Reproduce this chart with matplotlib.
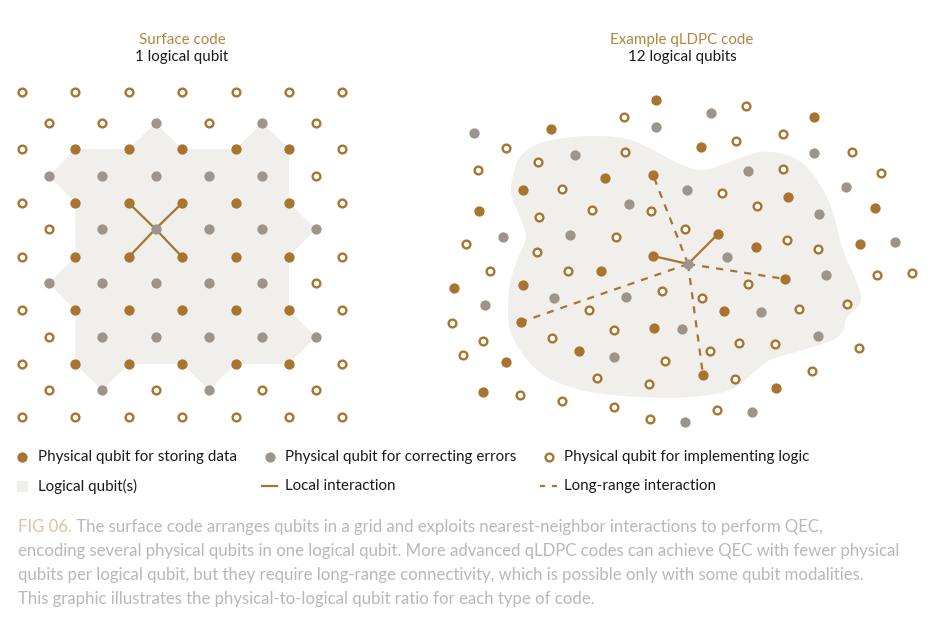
import matplotlib.pyplot as plt
import numpy as np

## colours
BROWN = '#a8742f'
GREY = '#9d958c'
SHADE = '#f0efec'
TAN = '#b5843f'
CAPTION = '#b8b8b8'

## ---- surface code grid (half-column index, row) ----
half_x = [22 + 26.7 * h for h in range(13)]
row_y = [92, 123, 149, 176, 203, 229, 257, 283, 310, 337, 364, 390, 417]
surface_rows = [
    "o.o.o.o.o.o.o",
    ".o.o.g.o.g.o.",
    "o.d.d.d.d.d.o",
    ".g.g.g.g.g.o.",
    "o.d.d.d.d.d.o",
    ".o.g.g.g.g.g.",
    "o.d.d.d.d.d.o",
    ".g.g.g.g.g.o.",
    "o.d.d.d.d.d.o",
    ".o.g.g.g.g.g.",
    "o.d.d.d.d.d.o",
    ".o.g.o.g.o.o.",
    "o.o.o.o.o.o.o",
]
# logical qubit outline (half-col, row)
surface_patch = [(2, 2), (4, 2), (5, 1), (6, 2), (8, 2), (9, 1), (10, 2), (10, 4), (11, 5),
                 (10, 6), (10, 8), (11, 9), (10, 10), (8, 10), (7, 11), (6, 10), (4, 10),
                 (3, 11), (2, 10), (2, 8), (1, 7), (2, 6), (2, 4), (1, 3)]
surface_center = (5, 5)
surface_local = [(4, 4), (6, 4), (4, 6), (6, 6)]

## ---- qLDPC example (pixel positions) ----
ldpc_data = [(656, 100), (551, 129), (653, 175), (605, 178), (523, 190), (479, 211), (653, 256),
             (701, 147), (814, 117), (788, 197), (875, 208), (718, 234), (756, 247), (860, 244),
             (601, 271), (454, 288), (523, 285), (521, 322), (654, 328), (506, 362), (579, 351),
             (483, 392), (785, 279), (724, 311), (703, 375), (776, 388)]
ldpc_check = [(656, 127), (474, 133), (575, 155), (629, 204), (503, 237), (570, 235), (711, 113),
              (814, 153), (748, 171), (687, 190), (846, 187), (819, 214), (895, 242), (727, 257),
              (485, 305), (554, 298), (626, 297), (614, 357), (682, 329), (688, 264), (826, 275),
              (761, 312), (818, 336), (752, 412), (685, 422)]
ldpc_logic = [(624, 117), (506, 148), (625, 152), (538, 162), (478, 170), (562, 189), (539, 217),
              (592, 210), (651, 211), (616, 237), (466, 244), (537, 252), (746, 106), (736, 141),
              (783, 134), (852, 152), (783, 169), (881, 173), (722, 193), (757, 206), (685, 229),
              (787, 240), (818, 249), (490, 271), (568, 271), (662, 291), (589, 310), (452, 323),
              (614, 330), (483, 341), (552, 338), (463, 355), (665, 361), (597, 378), (649, 384),
              (520, 395), (562, 401), (614, 407), (650, 419), (748, 284), (877, 275), (912, 273),
              (702, 298), (799, 309), (847, 304), (739, 343), (775, 344), (710, 351), (859, 348),
              (735, 379), (812, 371), (717, 410)]
ldpc_center = (688, 264)
ldpc_local = [(653, 256), (718, 234)]
ldpc_long = [(653, 175), (521, 322), (785, 279), (703, 375)]
ldpc_blob = [(540, 143), (573, 137), (600, 136), (627, 139), (653, 150), (680, 164), (703, 170),
             (730, 162), (760, 152), (787, 155), (807, 167), (823, 190), (833, 213), (843, 250),
             (857, 283), (861, 300), (855, 310), (847, 317), (843, 330), (833, 340), (803, 350),
             (770, 360), (753, 373), (730, 390), (690, 397), (640, 397), (590, 392), (557, 382),
             (537, 370), (520, 350), (510, 330), (508, 310), (510, 283), (518, 258), (526, 237),
             (520, 217), (512, 197), (512, 180), (520, 157)]

legend_labels = ['Physical qubit for storing data', 'Physical qubit for correcting errors',
                 'Physical qubit for implementing logic', 'Logical qubit(s)', 'Local interaction',
                 'Long-range interaction']
caption_lines = [
    'The surface code arranges qubits in a grid and exploits nearest-neighbor interactions to perform QEC,',
    'encoding several physical qubits in one logical qubit. More advanced qLDPC codes can achieve QEC with fewer physical',
    'qubits per logical qubit, but they require long-range connectivity, which is possible only with some qubit modalities.',
    'This graphic illustrates the physical-to-logical qubit ratio for each type of code.',
]

plt.rcParams['font.family'] = ['Lato', 'DejaVu Sans']

fig = plt.figure(figsize=(9.3, 6.18), dpi=100)
ax = fig.add_axes([0, 0, 1, 1])
ax.set_xlim(0, 930)
ax.set_ylim(618, 0)
ax.axis('off')

DOT = dict(linestyle='none', marker='o', markersize=7.4, markeredgewidth=0)
RING = dict(linestyle='none', marker='o', markersize=5.6, markeredgewidth=1.7,
            markerfacecolor='white', markeredgecolor=BROWN)


def smooth_closed(pts, n=20):
    # catmull-rom through the outline points
    p = np.array(pts, dtype=float)
    out = []
    for i in range(len(p)):
        p0, p1, p2, p3 = p[i - 1], p[i], p[(i + 1) % len(p)], p[(i + 2) % len(p)]
        for t in np.linspace(0, 1, n, endpoint=False):
            out.append(0.5 * ((2 * p1) + (-p0 + p2) * t + (2 * p0 - 5 * p1 + 4 * p2 - p3) * t ** 2
                              + (-p0 + 3 * p1 - 3 * p2 + p3) * t ** 3))
    return np.array(out)


## surface code
patch = [(half_x[h], row_y[r]) for h, r in surface_patch]
ax.fill([p[0] for p in patch], [p[1] for p in patch], color=SHADE, lw=0, zorder=1)
cx, cy = half_x[surface_center[0]], row_y[surface_center[1]]
for h, r in surface_local:
    ax.plot([cx, half_x[h]], [cy, row_y[r]], color=BROWN, lw=1.6, zorder=2)
pts = {'d': [], 'g': [], 'o': []}
for r, row in enumerate(surface_rows):
    for h, c in enumerate(row):
        if c in pts:
            pts[c].append((half_x[h], row_y[r]))
ax.plot(*zip(*pts['d']), color=BROWN, **DOT, zorder=3)
ax.plot(*zip(*pts['g']), color=GREY, **DOT, zorder=3)
ax.plot(*zip(*pts['o']), **RING, zorder=3)

## qLDPC code
blob = smooth_closed(ldpc_blob)
ax.fill(blob[:, 0], blob[:, 1], color=SHADE, lw=0, zorder=1)
for x, y in ldpc_local:
    ax.plot([ldpc_center[0], x], [ldpc_center[1], y], color=BROWN, lw=1.6, zorder=2)
for x, y in ldpc_long:
    ax.plot([ldpc_center[0], x], [ldpc_center[1], y], color=BROWN, lw=1.6,
            dashes=(3.2, 3.2), zorder=2)
ax.plot(*zip(*ldpc_data), color=BROWN, **DOT, zorder=3)
ax.plot(*zip(*ldpc_check), color=GREY, **DOT, zorder=3)
ax.plot(*zip(*ldpc_logic), **RING, zorder=3)

## titles
ax.text(182, 40, 'Surface code', color=TAN, fontsize=10.9, ha='center', va='center')
ax.text(182, 57.5, '1 logical qubit', color='#1a1a1a', fontsize=10.9, ha='center', va='center')
ax.text(682, 40, 'Example qLDPC code', color=TAN, fontsize=10.9, ha='center', va='center')
ax.text(682, 57.5, '12 logical qubits', color='#1a1a1a', fontsize=10.9, ha='center', va='center')

## legend
ly1, ly2 = 457, 486
ax.plot([22], [ly1], color=BROWN, **DOT)
ax.plot([270], [ly1], color=GREY, **DOT)
ax.plot([549], [ly1], **RING)
ax.plot([22], [ly2], marker='s', markersize=7, color=SHADE, linestyle='none')
ax.plot([262, 277], [ly2, ly2], color=BROWN, lw=1.6)
ax.plot([540, 557], [ly2, ly2], color=BROWN, lw=1.6, dashes=(2.2, 3.2))
for (x, y), lab in zip([(38, ly1), (285, ly1), (564, ly1), (38, ly2), (285, ly2), (564, ly2)],
                       legend_labels):
    ax.text(x, y, lab, color='#1a1a1a', fontsize=10.9, ha='left', va='center')

## caption
cap = ax.text(18, 527, 'FIG 06.', color='#dfc29a', fontsize=12.1, ha='left', va='center')
ax.annotate(' ' + caption_lines[0], xy=(1, 0), xycoords=cap, color=CAPTION, fontsize=12.1,
            ha='left', va='bottom')
for i, line in enumerate(caption_lines[1:]):
    ax.text(18, 551 + 24 * i, line, color=CAPTION, fontsize=12.1, ha='left', va='center')

fig.savefig('out.png', dpi=100)
